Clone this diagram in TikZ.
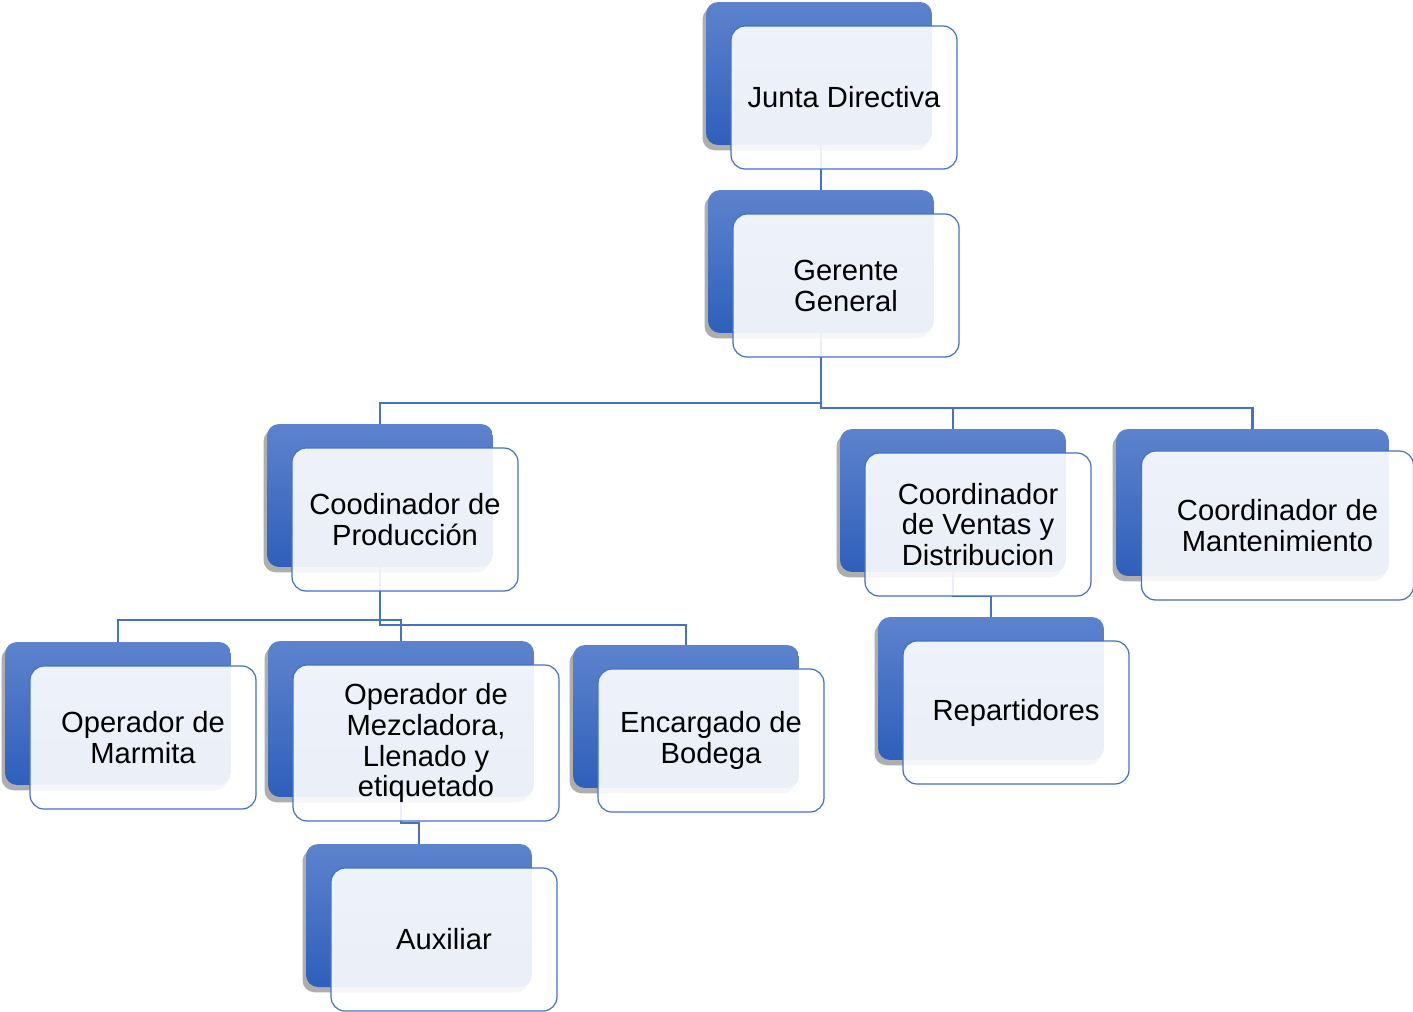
\documentclass[tikz,border=0pt]{standalone}
\usepackage{fontspec}
\setmainfont{Liberation Sans}
\usetikzlibrary{positioning,shadows,backgrounds}

\definecolor{orgblue}{HTML}{4472C4}
\definecolor{orgtop}{HTML}{5D83CD}
\definecolor{orgbottom}{HTML}{2F5FBB}

\begin{document}
\begin{tikzpicture}[%
        x = 0.02cm,
        y = -0.02cm,
        font = \fontsize{16.6pt}{17.6pt}\selectfont,
        backbox/.style = {%
            rectangle,
            rounded corners = 0.24cm,
            minimum width = 4.52cm,
            minimum height = 2.86cm,
            top color = orgtop,
            bottom color = orgbottom,
            draw = none,
            drop shadow = {shadow xshift = -2pt, shadow yshift = -3pt, opacity = 0.45, fill = black!70}
        },
        frontbox/.style = {%
            rectangle,
            rounded corners = 0.28cm,
            minimum width = 4.52cm,
            minimum height = 2.86cm,
            shift = {(25,24)},
            draw = orgblue,
            line width = 0.7pt,
            fill = white,
            fill opacity = 0.9,
            text opacity = 1,
            align = center
        },
        link/.style = {%
            draw = orgblue,
            line width = 1.5pt
        }
    ]
        \useasboundingbox (0,0) rectangle (1413,1011);
        % back boxes
        \node[backbox] (junb) at (819,73.5) {};
        \node[backbox] (gerb) at (821,261.5) {};
        \node[backbox] (prodb) at (380,495.5) {};
        \node[backbox] (ventb) at (953,500.5) {};
        \node[backbox, minimum width = 5.46cm, minimum height = 2.94cm] (mantb) at (1252.5,502.5) {};
        \node[backbox] (marmb) at (118,713.5) {};
        \node[backbox, minimum width = 5.32cm, minimum height = 3.12cm] (mezb) at (401,719) {};
        \node[backbox] (bodb) at (686,716.5) {};
        \node[backbox] (repb) at (991,688.5) {};
        \node[backbox] (auxb) at (419,915.5) {};
        % front boxes
        \node[frontbox] (junf) at (junb) {Junta Directiva};
        \node[frontbox] (gerf) at (gerb) {Gerente\\General};
        \node[frontbox] (prodf) at (prodb) {Coodinador de\\Producción};
        \node[frontbox] (ventf) at (ventb) {Coordinador\\de Ventas y\\Distribucion};
        \node[frontbox, minimum width = 5.44cm, minimum height = 2.98cm, shift = {(0,-1)}] (mantf) at (mantb) {Coordinador de\\Mantenimiento};
        \node[frontbox] (marmf) at (marmb) {Operador de\\Marmita};
        \node[frontbox, minimum width = 5.32cm, minimum height = 3.12cm] (mezf) at (mezb) {Operador de\\Mezcladora,\\Llenado y\\etiquetado};
        \node[frontbox] (bodf) at (bodb) {Encargado de\\Bodega};
        \node[frontbox] (repf) at (repb) {Repartidores};
        \node[frontbox] (auxf) at (auxb) {Auxiliar};
        % bus levels
        \coordinate (busa) at (0,403);
        \coordinate (busb) at (0,408);
        \coordinate (busc) at (0,620);
        \coordinate (busd) at (0,625);
        \coordinate (buse) at (0,596);
        \coordinate (busf) at (0,823);
        \begin{scope}[on background layer]
            \draw[link] (gerb.center) -- (junb.center -| gerb.center);
            \draw[link] (gerb.center) -- (gerb.center |- busa) -| (prodb.north);
            \draw[link] (gerb.center) -- (gerb.center |- busb) -| (ventb.north);
            \draw[link] (gerb.center) -- (gerb.center |- busb) -| (mantb.north);
            \draw[link] (prodb.center) -- (prodb.center |- busc) -| (marmb.north);
            \draw[link] (prodb.center) -- (prodb.center |- busc) -| (mezb.north);
            \draw[link] (prodb.center) -- (prodb.center |- busd) -| (bodb.north);
            \draw[link] (ventb.center) -- (ventb.center |- buse) -| (repb.north);
            \draw[link] (mezb.center) -- (mezb.center |- busf) -| (auxb.north);
        \end{scope}
    \end{tikzpicture}
\end{document}
